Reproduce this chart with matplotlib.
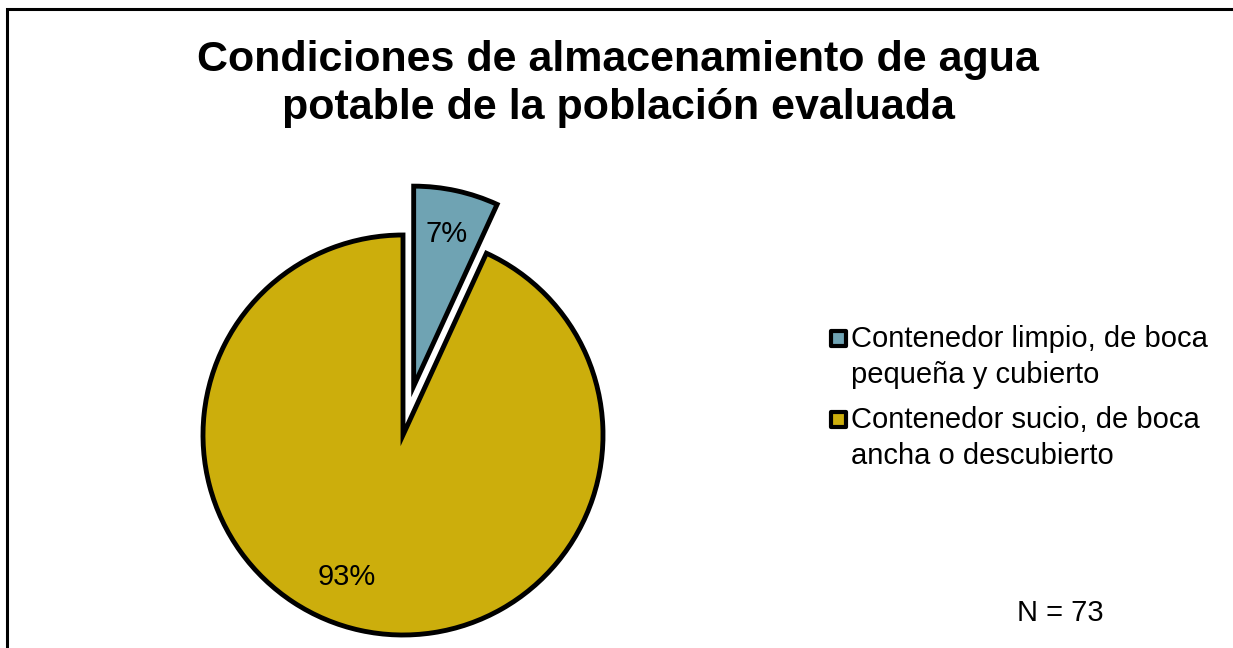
import matplotlib
matplotlib.use('Agg')
import matplotlib.pyplot as plt
from matplotlib.patches import Rectangle

plt.rcParams['font.family'] = ['Liberation Sans', 'DejaVu Sans']

# conteos de la encuesta (N = 73)
categorias = ['Contenedor limpio, de boca\npequeña y cubierto',
              'Contenedor sucio, de boca\nancha o descubierto']
conteos = [5, 68]
colores = ['#6FA3B3', '#CCAE0C']
separacion = [0.25, 0.0]
n_total = 73

W, H = 1233, 648
fig = plt.figure(figsize=(W / 100, H / 100), dpi=100)


def fx(px):
    return px / W


def fy(py):
    # py medido desde arriba
    return 1 - py / H


# marco del grafico
fig.add_artist(Rectangle((fx(7), -0.05), 1.1, fy(9) + 0.05,
                         transform=fig.transFigure, fill=False,
                         edgecolor='black', linewidth=2.2))

fig.text(fx(618), fy(84),
         'Condiciones de almacenamiento de agua\npotable de la población evaluada',
         ha='center', va='center', fontsize=31, fontweight='bold',
         linespacing=1.25)

# pie en un eje de 500x500 px centrado en (403, 435)
cx, cy, s = 403, 435, 500
ax = fig.add_axes([fx(cx - s / 2), fy(cy + s / 2), s / W, s / H])
wedges, textos, pcts = ax.pie(conteos, colors=colores, explode=separacion,
                              startangle=90, counterclock=False,
                              autopct='%1.0f%%', pctdistance=0.78,
                              wedgeprops=dict(edgecolor='black', linewidth=3.5),
                              textprops=dict(fontsize=21, color='black'))
pcts[1].set_position((-0.28, -0.71))
ax.set_xlim(-1.25, 1.25)
ax.set_ylim(-1.25, 1.25)
ax.set_aspect('equal')
ax.axis('off')

# leyenda: cuadro de color alineado con la primera linea del texto
leyenda_y = [338, 419]
for cat, col, y in zip(categorias, colores, leyenda_y):
    fig.add_artist(Rectangle((fx(831), fy(y + 7.5)), 15 / W, 15 / H,
                             transform=fig.transFigure, facecolor=col,
                             edgecolor='black', linewidth=3,
                             joinstyle='round'))
    fig.text(fx(851), fy(y + 19), cat, ha='left', va='center',
             fontsize=21, linespacing=1.36)

fig.text(fx(1060), fy(613), 'N = %d' % n_total, ha='center', va='center',
         fontsize=21)

plt.savefig('out.png', dpi=100)
